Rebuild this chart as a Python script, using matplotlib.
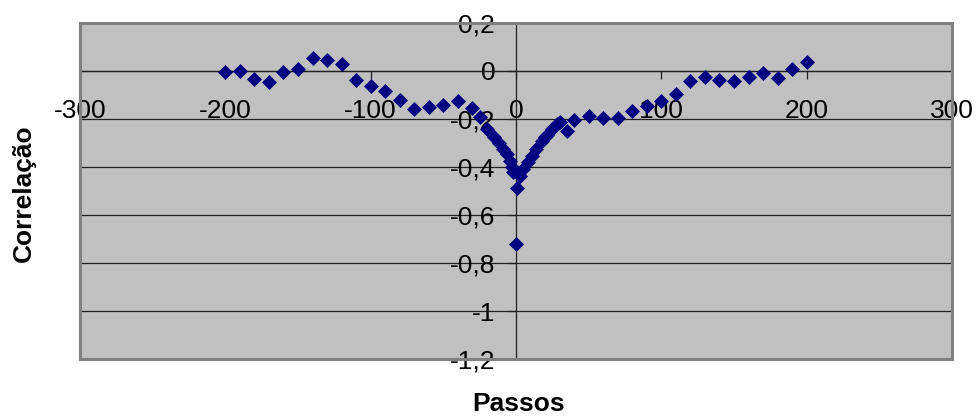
import matplotlib
matplotlib.use("Agg")
import matplotlib.pyplot as plt
from matplotlib.patches import Rectangle

# ---- data ----
passos = [-200, -190, -180, -170, -160, -150, -140, -130, -120, -110,
          -100, -90, -80, -70, -60, -50, -40, -30, -25, -20,
          -15, -12, -9, -6, -4, -3, -2, 0, 1,
          3, 5, 8, 11, 14, 18, 20, 21, 25, 28, 30, 35, 40,
          50, 60, 70, 80, 90, 100, 110, 120, 130, 140, 150, 160, 170, 180, 190, 200]
correlacao = [-0.005, 0.0, -0.035, -0.045, -0.005, 0.01, 0.055, 0.045, 0.028, -0.036,
              -0.063, -0.085, -0.12, -0.158, -0.151, -0.143, -0.123, -0.155, -0.193, -0.242,
              -0.277, -0.298, -0.326, -0.347, -0.375, -0.40, -0.42, -0.72, -0.486,
              -0.438, -0.41, -0.38, -0.354, -0.326, -0.29, -0.277, -0.267, -0.242, -0.22, -0.214, -0.249, -0.205,
              -0.188, -0.196, -0.197, -0.165, -0.144, -0.123, -0.095, -0.043, -0.025, -0.036, -0.043, -0.025, -0.007, -0.029, 0.01, 0.038]

x_ticks = [-300, -200, -100, 0, 100, 200, 300]
x_tick_labels = ["-300", "-200", "-100", "0", "100", "200", "300"]
y_ticks = [0.2, 0.0, -0.2, -0.4, -0.6, -0.8, -1.0, -1.2]
y_tick_labels = ["0,2", "0", "-0,2", "-0,4", "-0,6", "-0,8", "-1", "-1,2"]

plt.rcParams['font.family'] = ['Liberation Sans', 'DejaVu Sans']

fig = plt.figure(figsize=(9.78, 4.19), dpi=100)
W, H = 978, 419
left, right, top, bottom = 80, 952, 23, 359
ax = fig.add_axes([left / W, 1 - bottom / H, (right - left) / W, (bottom - top) / H])
ax.set_facecolor('#C0C0C0')
ax.set_xlim(-300, 300)
ax.set_ylim(-1.2, 0.2)

# gridlines
for yv in y_ticks:
    ax.axhline(yv, color='#202020', lw=0.9, zorder=1)

# axes through zero
for s in ['top', 'right']:
    ax.spines[s].set_visible(False)
ax.spines['left'].set_position(('data', 0))
ax.spines['bottom'].set_position(('data', 0))
for s in ['left', 'bottom']:
    ax.spines[s].set_color('#202020')
    ax.spines[s].set_linewidth(0.9)
    ax.spines[s].set_zorder(2)

ax.set_xticks(x_ticks)
ax.set_xticklabels(x_tick_labels)
ax.set_yticks(y_ticks)
ax.set_yticklabels(y_tick_labels)
ax.tick_params(axis='x', direction='out', length=6, width=0.9, pad=14, labelsize=19, color='#202020')
ax.tick_params(axis='y', direction='out', length=6, width=0.9, pad=9, labelsize=19, color='#202020')

# plot area border
ax.add_patch(Rectangle((0, 0), 1, 1, transform=ax.transAxes, fill=False,
                       ec='#808080', lw=2.2, clip_on=False, zorder=3))

ax.plot(passos, correlacao, linestyle='none', marker='D', ms=7.2,
        color='#000080', mec='#000080', mew=0.5, zorder=4, clip_on=False)

fig.text(519 / W, 1 - 404 / H, "Passos", ha='center', va='center',
         fontsize=19, fontweight='bold')
fig.text(24 / W, 1 - 193 / H, "Correlação", ha='center', va='center',
         rotation=90, fontsize=19, fontweight='bold')

fig.savefig("out.png", dpi=100)
